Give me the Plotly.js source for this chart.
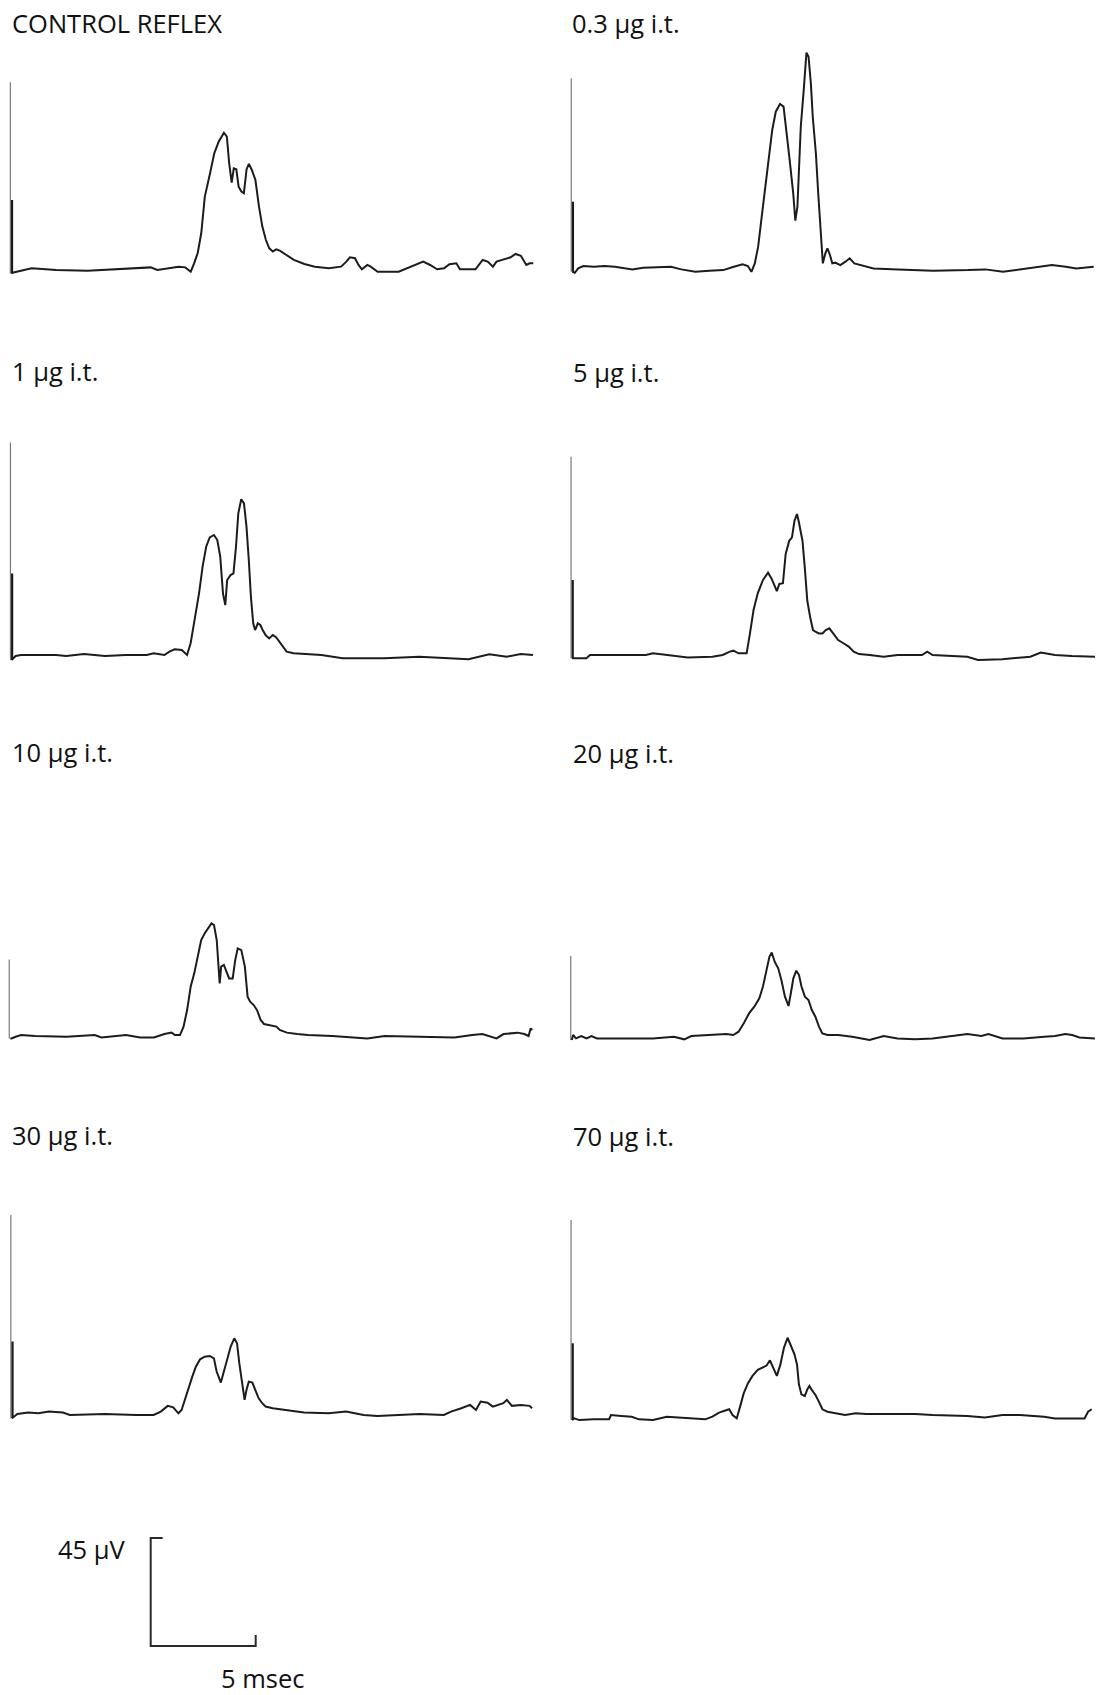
<!DOCTYPE html>
<html><head><meta charset="utf-8">
<script src="https://cdn.plot.ly/plotly-3.0.1.min.js"></script>
<style>html,body{margin:0;padding:0;background:#fff}</style>
</head><body>
<div id="chart" style="width:1096px;height:1695px"></div>
<script>
// ---- DATA (time in ms after stimulus artifact, amplitude in µV) ----
const panelLabels = ["CONTROL REFLEX","0.3 µg i.t.","1 µg i.t.","5 µg i.t.","10 µg i.t.","20 µg i.t.","30 µg i.t.","70 µg i.t."];

const t_control = [0,0.05,0.96,2.13,3.63,4.96,6.63,6.95,7.96,8.28,8.54,8.70,8.87,9.04,9.21,9.46,9.66,9.87,10.12,10.26,10.37,10.49,10.59,10.71,10.82,10.95,11.07,11.20,11.31,11.45,11.62,11.79,11.95,12.12,12.28,12.45,12.61,12.78,13.12,13.45,13.95,14.45,15.11,15.70,15.95,16.12,16.36,16.53,16.69,16.95,17.11,17.44,18.44,19.11,19.61,19.94,20.27,20.60,20.86,21.19,21.36,22.10,22.44,22.68,22.93,23.10,23.44,23.77,24.01,24.26,24.52,24.68,24.85];
const v_control = [-1.7,-1.4,0.4,-0.3,-0.6,0,0.8,-0.3,1.1,0.8,-1.0,2.5,6.7,15.0,30.3,40.0,48.3,53.2,56.9,55.3,44.2,36.1,42.1,41.7,34.4,32.4,31.7,41.7,43.9,41.4,37.2,26.1,17.8,12.2,8.75,7.4,8.3,7.8,6.0,3.9,2.2,1.1,0.4,1.1,3.2,5.0,4.6,1.8,0,1.8,1.1,-1.0,-1.0,1.4,3.2,1.8,0,0.4,2.1,2.5,0,0,3.9,3.2,1.1,3.2,4.2,5.0,6.4,5.6,1.8,2.5,2.5];

const t_03 = [0,0.12,0.28,0.53,1.03,1.53,2.03,2.86,3.37,3.86,4.70,5.19,5.86,6.52,7.19,7.69,8.11,8.36,8.53,8.69,8.85,9.02,9.19,9.35,9.52,9.69,9.89,10.06,10.18,10.35,10.52,10.62,10.72,10.79,10.88,11.02,11.15,11.25,11.36,11.45,11.60,11.71,11.82,11.93,12.05,12.15,12.27,12.38,12.52,12.76,13.01,13.21,13.43,13.85,14.34,15.51,17.18,18.84,19.67,20.51,21.34,22.17,22.84,23.50,24.00,24.83];
const v_03 = [-1.7,-2.1,-0.3,0.7,0.4,0.7,0.4,-0.7,0,0.1,0.4,-0.7,-1.7,-1.25,-1.0,0.4,1.4,0.7,-1.7,1.8,8.75,21.25,33.75,46.25,57.4,65,68.2,67.1,58.75,44.9,31,19.6,25.4,42.1,58.75,74,89.6,87.9,76.8,62.9,47.6,31,14.3,1.8,6.0,8.1,5.3,1.8,2.1,1.1,2.5,3.9,1.8,0.7,-0.3,-0.7,-1.25,-1.0,-0.7,-1.7,-0.7,0.4,1.1,0.4,-0.3,0.4];

const t_1 = [0,0.08,0.20,0.45,1.11,2.12,2.61,3.45,4.45,5.44,6.44,6.77,7.28,7.52,7.77,8.11,8.36,8.53,8.69,8.93,9.10,9.27,9.44,9.64,9.80,9.94,10.07,10.18,10.27,10.43,10.57,10.69,10.80,10.94,11.07,11.19,11.30,11.40,11.51,11.60,11.73,11.85,11.96,12.10,12.27,12.44,12.60,12.76,12.93,13.10,13.43,14.09,14.76,15.76,16.76,17.76,19.42,20.75,21.76,22.75,23.58,24.25,24.58,24.83];
const v_1 = [-2.1,-1.4,-0.4,0,0,0,-0.4,0.4,-0.4,0,0,0.7,0,1.4,2.4,2.1,0,4.9,13.2,25.7,36.8,45.1,49.0,50.0,47.9,41.0,25.7,20.8,31.25,33.3,34.0,45.1,59.0,64.9,63.2,53.5,39.6,24.3,13.2,10.4,13.2,12.5,10.4,8.3,6.9,8.3,7.4,5.6,3.5,1.4,0.7,0.4,0,-1.4,-1.4,-1.4,-0.7,-1.4,-1.8,0.3,-0.7,0.4,0,0];

const t_5 = [0,0.10,0.68,0.85,2.18,3.51,3.85,4.51,5.51,6.68,7.17,7.51,7.68,7.93,8.31,8.47,8.64,8.84,9.09,9.33,9.50,9.75,9.87,10.04,10.17,10.34,10.47,10.59,10.71,10.80,10.97,11.08,11.20,11.34,11.47,11.59,11.75,11.92,12.08,12.25,12.42,12.67,12.92,13.17,13.41,13.66,14.17,14.83,15.50,16.66,16.91,17.17,18.82,19.33,20.49,21.82,22.32,22.99,23.81,24.90];
const v_5 = [-1.4,-1.4,-1.4,0,0,0,0.7,0,-1.0,-0.7,0,1.4,1.8,0.7,0.7,9.0,18.75,25.7,31.25,34.3,31.8,26.6,29.6,29.9,42.1,47.6,49.0,55.9,58.75,55.3,47.6,36.5,22.6,15.6,10.4,9.7,9.0,9.0,10.4,11.1,9.0,6.25,4.9,3.5,1.4,0.4,0,-0.7,0,0,1.4,0,-0.7,-2.1,-1.8,-0.7,1.0,0,-0.4,-0.7];

const t_10 = [0,0.05,0.26,0.51,1.18,2.68,4.02,4.34,5.51,6.18,6.84,7.34,7.68,7.84,8.08,8.25,8.42,8.59,8.76,8.92,9.09,9.26,9.42,9.58,9.70,9.83,9.97,10.04,10.17,10.31,10.42,10.59,10.71,10.83,11.00,11.17,11.30,11.42,11.59,11.75,11.92,12.08,12.33,12.67,12.83,13.17,13.66,14.17,15.33,16.16,17.00,17.83,19.49,21.15,21.99,22.48,23.15,23.49,24.15,24.48,24.68,24.78,24.85];
const v_10 = [-1.0,-1.0,-0.3,0.4,0,-0.3,0.4,-0.6,0.4,-0.6,-0.6,0.8,1.4,0.4,0.4,3.9,10.8,20.6,26.1,33.1,40.0,42.8,44.9,46.9,46.25,40.0,21.9,28.9,29.6,26.1,24.0,24.0,31.6,36.5,35.8,28.9,16.4,14.3,12.9,10.8,6.7,5.0,4.6,3.9,2.5,1.4,0.8,0.4,0,-0.6,-1.0,0,-0.3,-0.6,0.4,0.8,-1.0,0.8,1.4,0.8,0,3.2,2.5];

const t_20 = [0,0.06,0.20,0.45,0.70,0.94,1.20,2.20,3.86,4.86,5.36,5.69,6.86,7.36,7.69,7.94,8.19,8.44,8.69,8.93,9.10,9.27,9.41,9.52,9.66,9.83,9.98,10.15,10.32,10.43,10.55,10.69,10.82,10.94,11.10,11.27,11.43,11.60,11.77,11.93,12.18,12.69,13.35,14.18,14.85,15.51,16.35,17.18,18.17,18.84,19.50,19.84,20.51,21.51,22.50,23.01,23.50,23.83,24.17,24.91];
const v_20 = [-1.4,0.7,-0.7,0.3,-0.7,0.3,-0.7,-0.7,-0.7,0,-1.1,0.3,0.7,1.1,0.7,2.1,5.6,9.7,12.5,16.0,20.8,27.8,33.3,35.1,31.25,28.5,23.6,16.7,12.8,18.1,24.3,27.5,25.7,20.8,16.7,15.3,11.1,8.3,4.2,1.4,0.7,0.7,0,-1.4,0.3,-0.7,-1.1,-0.7,0.3,1.1,0.3,1.1,-0.7,-0.7,0,0.3,1.1,0.7,-0.3,-0.7];

const t_30 = [0,0.10,0.26,0.77,1.27,1.76,2.43,2.76,3.76,4.43,5.92,6.75,7.09,7.42,7.68,7.93,8.08,8.25,8.42,8.59,8.76,8.96,9.18,9.42,9.62,9.75,9.95,10.09,10.26,10.42,10.59,10.72,10.83,10.97,11.08,11.17,11.28,11.45,11.59,11.75,11.92,12.08,12.42,13.09,13.91,15.08,15.91,16.75,17.41,18.41,19.41,20.57,20.91,21.40,21.82,22.10,22.32,22.65,22.90,23.40,23.57,23.81,24.23,24.65,24.77];
const v_30 = [-2.1,-1.4,-0.3,0.3,0,0.7,0.3,-0.7,-0.3,-0.3,-0.7,-0.7,0.7,3.1,2.5,0,1.4,6.25,10.4,15.3,19.4,22.5,23.6,23.9,22.9,17.4,12.8,17.4,23.6,27.8,31.25,29.2,20.8,12.5,5.6,9.7,13.2,12.8,9.7,6.25,4.2,2.8,2.1,1.4,0.3,0,0.7,-0.7,-1.1,-0.7,-0.3,-0.7,0.7,2.1,3.5,1.4,4.9,4.4,2.8,4.2,5.6,3.1,3.5,3.1,2.1];

const t_70 = [0,0.10,0.35,1.02,1.76,1.85,2.35,2.84,3.18,3.85,4.51,5.51,6.34,6.68,7.00,7.26,7.48,7.64,7.84,8.00,8.17,8.37,8.59,8.84,9.09,9.26,9.42,9.58,9.75,9.92,10.09,10.26,10.42,10.59,10.71,10.80,10.92,11.08,11.20,11.30,11.42,11.59,11.75,11.92,12.16,12.67,13.00,13.50,14.00,15.50,16.33,17.17,18.82,19.66,20.49,21.32,22.48,22.99,24.40,24.57,24.74];
const v_70 = [-1.7,-1.0,-1.7,-1.4,-1.4,0.4,0,-0.3,-1.4,-1.7,-0.3,-1.0,-1.4,-0.3,1.4,2.2,2.8,0.4,-1.0,3.9,9.4,13.6,16.7,19.2,20.3,21.0,23.2,20.3,16.7,21.5,28.5,32.6,29.2,25.7,21.5,13.2,9.0,8.3,11.1,12.5,10.8,8.75,6.0,2.8,1.8,1.1,0.4,1.1,0.8,0.8,0.8,0.4,0,-0.6,0.4,0.4,-0.3,-1.0,-1.0,1.8,2.8];

// stimulus artifact (µV): thin full-height stroke, heavier lower stroke, floor
const artifactThin  = [77.9, 78.9, 88.5, 82.6, 31.9, 33.6, 82.6, 81.7];
const artifactThick = [28.9, 27.5, 34.0, 31.25, null, null, 29.9, 30.3];
const artifactFloor = [-1.7, -1.7, -2.1, -1.4, -1.0, -1.4, -2.1, -1.7];

// calibration bar
const scaleBarMs = 5;
const scaleBarUv = 45;
const scaleBarLabels = ["45 µV", "5 msec"];

// ---- LAYOUT (pixel geometry) ----
const W = 1096, H = 1695;
const PX_PER_MS = 21, PX_PER_UV = 2.4;
const series = [[t_control,v_control],[t_03,v_03],[t_1,v_1],[t_5,v_5],[t_10,v_10],[t_20,v_20],[t_30,v_30],[t_70,v_70]];
// artifact x / baseline y of each panel, in page pixels
const anchors = [[11.4,269.3],[572.3,267.7],[11.5,655],[572.1,655],[10.3,1036],[571.8,1036.7],[11.9,1413.3],[572.1,1416]];
const labelPos = [[10.5,22.5],[570.7,22.5],[10.5,371],[571.8,372.5],[10.5,752],[571.8,752.5],[10.5,1135],[571.8,1136]];

const layout = {
  width: W, height: H, margin: {l:0,r:0,t:0,b:0},
  paper_bgcolor: '#fff', plot_bgcolor: 'rgba(0,0,0,0)',
  showlegend: false, annotations: []
};
const traces = [];
const FONT = {family: '"Open Sans", "Liberation Sans", sans-serif', size: 25.5, color: '#111'};

function makeAxes(idx, x0, y0) {
  const left = Math.max(0, x0 - 8), right = Math.min(W, x0 + 540);
  const top = Math.max(0, y0 - 255), bot = Math.min(H, y0 + 22);
  const sx = idx === 1 ? '' : idx;
  layout['xaxis' + sx] = {domain: [left / W, right / W], range: [(left - x0) / PX_PER_MS, (right - x0) / PX_PER_MS],
    visible: false, showgrid: false, zeroline: false, fixedrange: true, anchor: 'y' + sx};
  layout['yaxis' + sx] = {domain: [1 - bot / H, 1 - top / H], range: [(y0 - bot) / PX_PER_UV, (y0 - top) / PX_PER_UV],
    visible: false, showgrid: false, zeroline: false, fixedrange: true, anchor: 'x' + sx};
  return {xa: 'x' + sx, ya: 'y' + sx};
}

series.forEach((s, i) => {
  const [x0, y0] = anchors[i];
  const ax = makeAxes(i + 1, x0, y0);
  traces.push({x: [-0.05, -0.05], y: [artifactFloor[i], artifactThin[i]], xaxis: ax.xa, yaxis: ax.ya,
    mode: 'lines', line: {color: '#7a7a7a', width: 1.2}, hoverinfo: 'skip', cliponaxis: false});
  if (artifactThick[i] !== null) {
    traces.push({x: [0.03, 0.03], y: [artifactFloor[i], artifactThick[i]], xaxis: ax.xa, yaxis: ax.ya,
      mode: 'lines', line: {color: '#1a1a1a', width: 2.2}, hoverinfo: 'skip', cliponaxis: false});
  }
  traces.push({x: s[0], y: s[1], xaxis: ax.xa, yaxis: ax.ya, mode: 'lines',
    line: {color: '#1c1c1c', width: 2}, hoverinfo: 'skip', cliponaxis: false});
  layout.annotations.push({text: panelLabels[i], xref: 'paper', yref: 'paper',
    x: labelPos[i][0] / W, y: 1 - labelPos[i][1] / H, xanchor: 'left', yanchor: 'middle',
    showarrow: false, font: FONT, borderpad: 0});
});

// calibration bar
const sb = makeAxes(9, 150.7, 1646);
traces.push({x: [0.57, 0, 0, scaleBarMs, scaleBarMs], y: [scaleBarUv, scaleBarUv, 0, 0, 4.6],
  xaxis: sb.xa, yaxis: sb.ya, mode: 'lines', line: {color: '#2a2a2a', width: 2}, hoverinfo: 'skip', cliponaxis: false});
layout.annotations.push({text: scaleBarLabels[0], xref: 'paper', yref: 'paper', x: 127 / W, y: 1 - 1549 / H,
  xanchor: 'right', yanchor: 'middle', showarrow: false, font: FONT, borderpad: 0});
layout.annotations.push({text: scaleBarLabels[1], xref: 'paper', yref: 'paper', x: 220 / W, y: 1 - 1678 / H,
  xanchor: 'left', yanchor: 'middle', showarrow: false, font: FONT, borderpad: 0});

Plotly.newPlot('chart', traces, layout, {displayModeBar: false, staticPlot: true});
</script>
</body></html>
